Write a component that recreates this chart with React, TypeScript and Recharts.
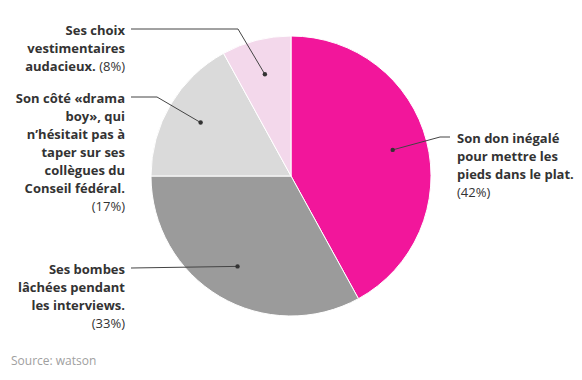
import { PieChart, Pie, Cell } from "recharts";

const categories = [
  "Son don inégalé pour mettre les pieds dans le plat.",
  "Ses bombes lâchées pendant les interviews.",
  "Son côté «drama boy», qui n’hésitait pas à taper sur ses collègues du Conseil fédéral.",
  "Ses choix vestimentaires audacieux.",
];
const values = [42, 33, 17, 8];
const labelLines = [
  ["Son don inégalé", "pour mettre les", "pieds dans le plat."],
  ["Ses bombes", "lâchées pendant", "les interviews."],
  ["Son côté «drama", "boy», qui", "n’hésitait pas à", "taper sur ses", "collègues du", "Conseil fédéral."],
  ["Ses choix", "vestimentaires", "audacieux."],
];
const pctInline = [false, false, false, true];
const colors = ["#f2169b", "#9b9b9b", "#dadada", "#f3d8eb"];

// leader line elbows relative to the pie center
const elbows = [
  { ex: 149, ey: -39, tx: 159 },
  { ex: -160, ey: 92, tx: -160 },
  { ex: -134, ey: -79, tx: -160 },
  { ex: -53, ey: -147, tx: -160 },
];

const data = categories.map((name, i) => ({ name, value: values[i] }));
const RADIAN = Math.PI / 180;
const TEXT = "#333333";

function renderLabel(props: any) {
  const { cx, cy, midAngle, outerRadius, index } = props;
  const r = outerRadius * 0.75;
  const dx = cx + r * Math.cos(-midAngle * RADIAN);
  const dy = cy + r * Math.sin(-midAngle * RADIAN);
  const e = elbows[index];
  const ex = cx + e.ex;
  const ey = cy + e.ey;
  const endX = cx + e.tx;
  const right = e.tx > 0;
  const textX = right ? endX + 7 : endX - 6;
  const lines = labelLines[index];
  const pct = `(${values[index]}%)`;
  const lh = 18;
  const base = ey + 6;
  return (
    <g key={`lbl-${index}`}>
      <polyline
        points={`${dx},${dy} ${ex},${ey} ${endX},${ey}`}
        fill="none"
        stroke="#444"
        strokeWidth={1}
      />
      <circle cx={dx} cy={dy} r={2.2} fill="#333" />
      <text
        x={textX}
        y={base}
        textAnchor={right ? "start" : "end"}
        fontFamily="'Open Sans', sans-serif"
        fontSize={13}
        fill={TEXT}
      >
        {lines.map((l, j) => (
          <tspan key={j} x={textX} y={base + j * lh} fontWeight={700}>
            {l}
            {pctInline[index] && j === lines.length - 1 ? (
              <tspan fontWeight={400}>{" " + pct}</tspan>
            ) : null}
          </tspan>
        ))}
        {!pctInline[index] ? (
          <tspan x={textX} y={base + lines.length * lh} fontWeight={400}>
            {pct}
          </tspan>
        ) : null}
      </text>
    </g>
  );
}

export default function App() {
  return (
    <div style={{ position: "absolute", left: 0, top: 0, width: 582, height: 380, background: "#fff" }}>
      <PieChart width={582} height={380} margin={{ top: 0, right: 0, bottom: 0, left: 0 }}>
        <Pie
          data={data}
          dataKey="value"
          cx={291}
          cy={176}
          outerRadius={140}
          startAngle={90}
          endAngle={-270}
          stroke="#ffffff"
          strokeWidth={1}
          label={renderLabel}
          labelLine={false}
          isAnimationActive={false}
        >
          {data.map((entry, index) => (
            <Cell key={`cell-${index}`} fill={colors[index]} />
          ))}
        </Pie>
      </PieChart>
      <div
        style={{
          position: "absolute",
          left: 11,
          top: 353,
          fontFamily: "'Open Sans', sans-serif",
          fontSize: 12,
          lineHeight: "16px",
          color: "#a0a0a0",
        }}
      >
        Source: watson
      </div>
    </div>
  );
}
